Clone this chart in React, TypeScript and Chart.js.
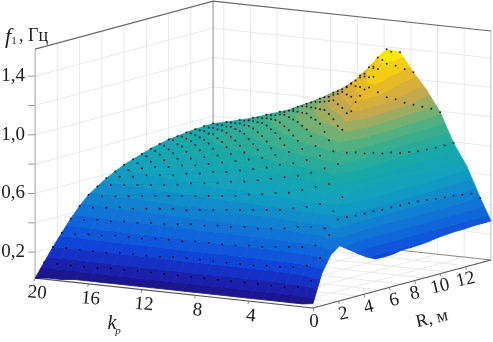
import React, { useEffect, useRef } from "react";
import { Chart, registerables } from "chart.js";

Chart.register(...registerables);

// Data
const kValues = [-0.8, 0, 1, 2, 3, 4, 5, 6, 7, 8, 9, 10, 11, 12, 13, 14, 15, 16, 17, 18, 19, 20];
const rValues = [0, 0.7, 1.4, 2.1, 2.8, 3.5, 4.2, 4.9, 5.6, 6.3, 7, 7.7, 8.4, 9.1, 9.8, 10.5, 11.2, 11.9, 12.6, 13.3, 14];
// one row per k, one value per R
const surfaceZ = [
  [.03, .22, .33, .375, .333, .29, .25, .22, .217, .22, .232, .232, .235, .24, .25, .255, .26, .26, .265, .265, .266],
  [.02, .16, .30, .44, .53, .53, .525, .52, .52, .515, .515, .51, .51, .505, .50, .49, .485, .48, .47, .46, .415],
  [.02, .11, .24, .36, .46, .56, .64, .68, .69, .69, .69, .685, .68, .675, .67, .66, .655, .645, .64, .63, .62],
  [.02, .10, .22, .34, .46, .60, .72, .84, .90, .885, .862, .85, .83, .82, .80, .79, .78, .775, .77, .77, .77],
  [.02, .10, .21, .33, .45, .57, .69, .80, .90, 1.03, 1.14, 1.23, 1.27, 1.22, 1.17, 1.14, 1.10, 1.07, 1.04, 1.01, .97],
  [.02, .10, .21, .32, .43, .55, .66, .76, .86, .95, 1.03, 1.10, 1.16, 1.23, 1.30, 1.28, 1.24, 1.20, 1.17, 1.14, 1.11],
  [.02, .10, .20, .31, .42, .53, .63, .73, .82, .90, .98, 1.05, 1.11, 1.17, 1.22, 1.27, 1.31, 1.33, 1.30, 1.26, 1.223],
  [.02, .10, .20, .31, .41, .52, .62, .71, .79, .87, .94, 1.01, 1.06, 1.11, 1.16, 1.20, 1.25, 1.29, 1.33, 1.37, 1.35],
  [.02, .10, .20, .30, .41, .51, .60, .69, .77, .84, .90, .96, 1.01, 1.06, 1.11, 1.15, 1.19, 1.23, 1.27, 1.32, 1.36],
  [.02, .10, .20, .30, .40, .50, .59, .67, .74, .81, .86, .91, .96, 1.00, 1.04, 1.08, 1.11, 1.14, 1.17, 1.20, 1.233],
  [.02, .10, .20, .30, .40, .49, .57, .65, .72, .78, .83, .88, .92, .96, 1.00, 1.02, 1.05, 1.08, 1.10, 1.125, 1.148],
  [.02, .10, .20, .30, .39, .48, .56, .64, .70, .76, .81, .85, .89, .92, .95, .98, 1.00, 1.02, 1.04, 1.06, 1.077],
  [.02, .10, .20, .29, .39, .47, .55, .62, .68, .74, .78, .82, .86, .89, .92, .94, .96, .98, .995, 1.01, 1.026],
  [.02, .10, .19, .29, .38, .46, .54, .61, .67, .72, .76, .80, .83, .86, .89, .91, .93, .94, .955, .965, .975],
  [.02, .10, .19, .29, .37, .46, .53, .60, .65, .70, .74, .78, .81, .84, .86, .88, .89, .905, .915, .925, .93],
  [.02, .10, .19, .28, .37, .45, .52, .58, .64, .68, .72, .76, .79, .81, .83, .85, .86, .87, .875, .88, .886],
  [.02, .10, .19, .28, .36, .44, .51, .57, .62, .67, .70, .74, .77, .79, .81, .82, .83, .84, .845, .85, .855],
  [.02, .09, .18, .28, .36, .43, .50, .56, .61, .65, .69, .72, .75, .77, .79, .80, .81, .815, .82, .823, .825],
  [.02, .09, .18, .27, .35, .43, .49, .55, .60, .64, .67, .70, .73, .75, .76, .77, .78, .785, .79, .792, .794],
  [.01, .09, .18, .27, .35, .42, .48, .54, .58, .62, .65, .68, .70, .72, .74, .75, .76, .765, .767, .769, .77],
  [.01, .09, .18, .26, .34, .41, .47, .53, .57, .60, .63, .66, .68, .70, .72, .73, .735, .74, .742, .745, .746],
  [0, .09, .18, .26, .34, .41, .47, .51, .55, .58, .61, .63, .65, .67, .685, .70, .705, .715, .72, .724, .726],
];
const zTicks = [0.2, 0.4, 0.6, 0.8, 1.0, 1.2, 1.4];
const zLabels = ["0,2", "0,6", "1,0", "1,4"];
const zLabelValues = [0.2, 0.6, 1.0, 1.4];
const kTickValues = [20, 16, 12, 8, 4];
const rTickValues = [0, 2, 4, 6, 8, 10, 12];
const gridK = [1.2, 3.2, 5.2, 7.2, 9.2, 11.2, 13.2, 15.2, 17.2, 19.2];
const gridR = [1.75, 3.5, 5.25, 7, 8.75, 10.5, 12.25];

const colorZ = [0, 0.1, 0.2, 0.3, 0.45, 0.6, 0.75, 0.9, 1.0, 1.1, 1.2, 1.3, 1.39];
const colorRGB = [
  [28, 16, 128], [26, 34, 176], [16, 64, 216], [15, 95, 220], [16, 128, 208], [16, 160, 192],
  [24, 168, 168], [64, 176, 136], [122, 176, 112], [192, 168, 80], [224, 176, 48], [248, 208, 16], [255, 250, 0],
];
const BAND = 0.06;

const K_MIN = -0.8;
const Z_TOP = 1.561;
const Z_FLOOR = 0.023;

function project(k: number, r: number, z: number) {
  return {
    x: 313 - 13.36 * (k - K_MIN) + 12.71 * r,
    y: 308 - 1.436 * (k - K_MIN) - 3.43 * r - 146.7 * z,
  };
}

function colorAt(z: number) {
  const v = Math.max(colorZ[0], Math.min(colorZ[colorZ.length - 1], z));
  let i = 0;
  while (i < colorZ.length - 2 && v > colorZ[i + 1]) i++;
  const t = (v - colorZ[i]) / (colorZ[i + 1] - colorZ[i]);
  const c = colorRGB[i].map((a, n) => Math.round(a + (colorRGB[i + 1][n] - a) * t));
  return `rgb(${c[0]},${c[1]},${c[2]})`;
}
const bandColor = (band: number) => colorAt((band + 0.5) * BAND);

// Paint for one quad: colour follows height, so the gradient runs along the plane fitted to the quad.
function quadPaint(ctx: CanvasRenderingContext2D, pts: { x: number; y: number; z: number }[]) {
  const n = pts.length;
  const cx = pts.reduce((s, p) => s + p.x, 0) / n;
  const cy = pts.reduce((s, p) => s + p.y, 0) / n;
  const cz = pts.reduce((s, p) => s + p.z, 0) / n;
  let sxx = 0, sxy = 0, syy = 0, sxz = 0, syz = 0;
  for (const p of pts) {
    const dx = p.x - cx, dy = p.y - cy, dz = p.z - cz;
    sxx += dx * dx; sxy += dx * dy; syy += dy * dy; sxz += dx * dz; syz += dy * dz;
  }
  const det = sxx * syy - sxy * sxy;
  const zlo = Math.min(...pts.map((p) => p.z));
  const zhi = Math.max(...pts.map((p) => p.z));
  const b0 = Math.floor(zlo / BAND);
  const b1 = Math.floor(zhi / BAND);
  if (b0 === b1 || Math.abs(det) < 1e-6) return bandColor(Math.floor(cz / BAND));
  const a = (sxz * syy - syz * sxy) / det;
  const b = (syz * sxx - sxz * sxy) / det;
  const g2 = a * a + b * b;
  if (g2 < 1e-12) return bandColor(Math.floor(cz / BAND));
  const at = (z: number) => ({ x: cx + ((z - cz) * a) / g2, y: cy + ((z - cz) * b) / g2 });
  const p0 = at(zlo), p1 = at(zhi);
  const g = ctx.createLinearGradient(p0.x, p0.y, p1.x, p1.y);
  g.addColorStop(0, bandColor(b0));
  for (let k = b0; k < b1; k++) {
    const t = ((k + 1) * BAND - zlo) / (zhi - zlo);
    g.addColorStop(t, bandColor(k));
    g.addColorStop(t, bandColor(k + 1));
  }
  g.addColorStop(1, bandColor(b1));
  return g;
}

function segment(points: { x: number; y: number }[], color: string, width: number) {
  return {
    data: points,
    showLine: true,
    fill: false,
    borderColor: color,
    borderWidth: width,
    pointRadius: 0,
    tension: 0,
  };
}

const labelsPlugin = {
  id: "surfaceLabels",
  afterDatasetsDraw(chart: any) {
    const { ctx } = chart;
    const text = (s: string, x: number, y: number, font: string, rot = 0, color = "#1c1c1c", align = "center") => {
      ctx.save();
      ctx.translate(x, y);
      ctx.rotate((rot * Math.PI) / 180);
      ctx.font = font;
      ctx.fillStyle = color;
      ctx.textAlign = align;
      ctx.textBaseline = "middle";
      ctx.fillText(s, 0, 0);
      ctx.restore();
    };
    const serif = '"Liberation Serif"';
    zLabelValues.forEach((v, i) => {
      const p = project(20, 0, v - Z_FLOOR);
      text(zLabels[i], 25, p.y, `19px ${serif}`, 0, "#1c1c1c", "right");
    });
    kTickValues.forEach((k) => {
      const p = project(k, 0, 0);
      text(String(k), p.x + 2, p.y + 15, `19px ${serif}`, 5);
    });
    rTickValues.forEach((r) => {
      const p = project(K_MIN, r, 0);
      const dx = r === 0 ? 1 : r <= 6 ? 5 : 0;
      text(String(r), p.x + dx, p.y + (r === 0 ? 14 : 13), `19px ${serif}`, r === 0 ? 0 : -13);
    });
    text("f", 8, 37, `italic 22px ${serif}`);
    text("1", 14, 41, `11px ${serif}`);
    text(", Гц", 19, 36, `18px ${serif}`, 0, "#1c1c1c", "left");
    text("k", 112, 324, `italic 20px ${serif}`);
    text("p", 118, 331, `italic 11px ${serif}`);
    text("R, м", 432, 319, `18px ${serif}`, -13);
  },
};

export default function App() {
  const ref = useRef<HTMLCanvasElement | null>(null);

  useEffect(() => {
    document.body.style.margin = "0";
    const canvas = ref.current!;
    const ctx = canvas.getContext("2d")!;
    const datasets: any[] = [];
    const zTop = Z_TOP;

    // black sample points, on top of everything
    const dots: { x: number; y: number }[] = [];
    kValues.forEach((k, i) => {
      if (i === 0) return;
      rValues.forEach((r, j) => {
        if (j === 0) return;
        if (k === 1 && j > 6) return;
        if (k === 4 && j > 14) return;
        dots.push(project(k, r, surfaceZ[i][j]));
      });
    });
    datasets.push({
      data: dots,
      showLine: false,
      pointRadius: 1,
      pointBorderWidth: 0,
      pointBackgroundColor: "rgba(0,0,0,0.8)",
    });

    // surface, nearest quads first so that farther ones are painted before them
    for (let i = 0; i < kValues.length - 1; i++) {
      for (let j = 0; j < rValues.length - 1; j++) {
        const corners = [
          [i, j],
          [i + 1, j],
          [i + 1, j + 1],
          [i, j + 1],
        ].map(([a, b]) => ({ ...project(kValues[a], rValues[b], surfaceZ[a][b]), z: surfaceZ[a][b] }));
        const paint = quadPaint(ctx, corners);
        // mesh line along k, sitting on this quad
        datasets.push(segment([corners[0], corners[1]].map((p) => ({ x: p.x, y: p.y })), "rgba(0,0,0,0.14)", 0.7));
        datasets.push({
          data: [...corners, corners[0]].map((p) => ({ x: p.x, y: p.y })),
          showLine: true,
          fill: "shape",
          backgroundColor: paint,
          borderColor: paint,
          borderWidth: 0.8,
          pointRadius: 0,
          tension: 0,
        });
      }
    }

    // frame
    const A = (k: number, r: number, z: number) => project(k, r, z);
    datasets.push(segment([A(20, 0, zTop), A(20, 14, zTop), A(K_MIN, 14, zTop)], "#6a6a6a", 1.2));
    datasets.push(segment([A(20, 14, 0), A(20, 14, zTop)], "#8c8c8c", 1));
    datasets.push(segment([A(K_MIN, 0, 0), A(K_MIN, 14, 0)], "#555555", 1.2));
    datasets.push(segment([A(20, 0, 0), A(K_MIN, 0, 0)], "#555555", 1.2));
    datasets.push(segment([A(20, 14, 0), A(K_MIN, 14, 0)], "#8a8a8a", 1));
    datasets.push(segment([A(20, 0, 0), A(20, 0, zTop)], "#b0b0b0", 1.2));
    datasets.push(segment([A(K_MIN, 14, 0), A(K_MIN, 14, zTop)], "#c0c0c0", 1));
    datasets.push(segment([A(20, 0, 0), A(20, 14, 0)], "#d8d8d8", 1));

    // axis ticks
    zTicks.forEach((v) => {
      const p = A(20, 0, v - Z_FLOOR);
      datasets.push(segment([{ x: p.x - 7, y: p.y }, p], "#9a9a9a", 1));
    });
    kTickValues.forEach((k) => {
      const p = A(k, 0, 0);
      datasets.push(segment([p, { x: p.x - 1, y: p.y + 3 }], "#888888", 1));
    });
    rTickValues.forEach((r) => {
      const p = A(K_MIN, r, 0);
      datasets.push(segment([p, { x: p.x + 1, y: p.y + 3 }], "#888888", 1));
    });

    // wall and floor grid
    const gridColor = "#e9e9e9";
    zTicks.forEach((v) => {
      datasets.push(segment([A(20, 0, v - Z_FLOOR), A(20, 14, v - Z_FLOOR), A(K_MIN, 14, v - Z_FLOOR)], gridColor, 1));
    });
    gridR.forEach((r) => {
      datasets.push(segment([A(K_MIN, r, 0), A(20, r, 0), A(20, r, zTop)], gridColor, 1));
    });
    gridK.forEach((k) => {
      datasets.push(segment([A(k, 0, 0), A(k, 14, 0), A(k, 14, zTop)], gridColor, 1));
    });

    const chart = new Chart(canvas, {
      type: "scatter",
      data: { datasets },
      options: {
        animation: false,
        responsive: false,
        layout: { padding: 0, autoPadding: false },
        plugins: { legend: { display: false }, tooltip: { enabled: false } },
        scales: {
          x: { type: "linear", min: 0, max: 493, display: false },
          y: { type: "linear", min: 0, max: 342, reverse: true, display: false },
        },
      },
      plugins: [labelsPlugin],
    } as any);
    return () => chart.destroy();
  }, []);

  return <canvas ref={ref} width={493} height={342} style={{ display: "block" }} />;
}
